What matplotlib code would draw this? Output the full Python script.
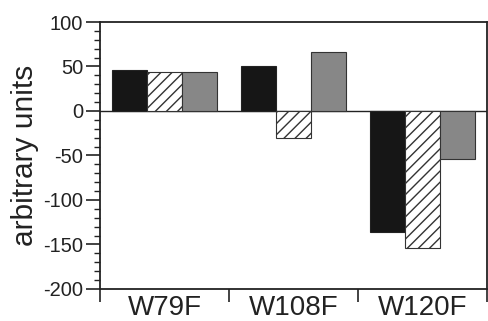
import matplotlib
matplotlib.use("Agg")
import matplotlib.pyplot as plt
from matplotlib.ticker import MultipleLocator, FixedLocator, NullFormatter
import numpy as np

plt.rcParams['font.family'] = ['Liberation Sans', 'DejaVu Sans']
plt.rcParams['axes.unicode_minus'] = False
plt.rcParams['hatch.linewidth'] = 1.0
plt.rcParams['hatch.color'] = '#333333'

categories = ["W79F", "W108F", "W120F"]
series_black = [45.7, 50.2, -136.3]
series_hatched = [44.2, -30.0, -154.0]
series_gray = [43.4, 66.7, -53.6]

fig = plt.figure(figsize=(4.88, 3.21), dpi=100)
ax = fig.add_axes([100/488, 1-289/321, 387/488, 267/321])

x = np.arange(len(categories))
w = 0.272
ax.bar(x - w, series_black, w, color='#161616', edgecolor='#222222', linewidth=0.8)
ax.bar(x, series_hatched, w, color='white', edgecolor='#333333', linewidth=0.8, hatch='///')
ax.bar(x + w, series_gray, w, color='#878787', edgecolor='#333333', linewidth=0.8)

ax.axhline(0, color='#222222', linewidth=1.0, zorder=0.5)

ax.set_xlim(-0.5, 2.5)
ax.set_ylim(-200, 100)

ax.yaxis.set_major_locator(MultipleLocator(50))
ax.yaxis.set_minor_locator(MultipleLocator(10))
ax.tick_params(axis='y', which='major', direction='out', length=10, width=1.2,
               labelsize=14.5, pad=2, colors='#222222')
ax.tick_params(axis='y', which='minor', direction='out', length=4, width=1.0, colors='#222222')

ax.xaxis.set_major_locator(FixedLocator([-0.5, 0.5, 1.5, 2.5]))
ax.xaxis.set_major_formatter(NullFormatter())
ax.xaxis.set_minor_locator(FixedLocator(list(x)))
ax.set_xticks(x, categories, minor=True)
ax.tick_params(axis='x', which='major', direction='out', length=9, width=1.2, colors='#222222')
ax.tick_params(axis='x', which='minor', length=0, labelsize=20, pad=4, labelcolor='#222222')

for s in ax.spines.values():
    s.set_linewidth(1.3)
    s.set_color('#222222')

ax.set_ylabel("arbitrary units", fontsize=21.5, color='#222222', labelpad=3)

fig.savefig("out.png", dpi=100)
